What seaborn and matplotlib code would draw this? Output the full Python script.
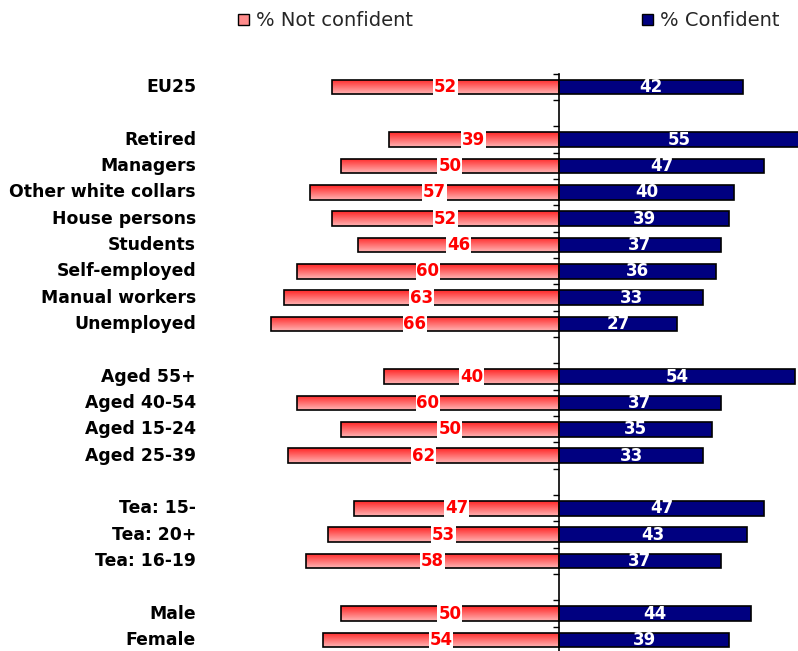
import numpy as np
import pandas as pd
import matplotlib
matplotlib.use("Agg")
import matplotlib.pyplot as plt
from matplotlib.patches import Patch
from matplotlib.colors import LinearSegmentedColormap
import seaborn as sns

# Groups, top to bottom; empty strings mark the spacer rows between groups
categories = [
    "EU25", "",
    "Retired", "Managers", "Other white collars", "House persons",
    "Students", "Self-employed", "Manual workers", "Unemployed", "",
    "Aged 55+", "Aged 40-54", "Aged 15-24", "Aged 25-39", "",
    "Tea: 15-", "Tea: 20+", "Tea: 16-19", "",
    "Male", "Female",
]
not_confident = [52, None, 39, 50, 57, 52, 46, 60, 63, 66, None,
                 40, 60, 50, 62, None, 47, 53, 58, None, 50, 54]
confident = [42, None, 55, 47, 40, 39, 37, 36, 33, 27, None,
             54, 37, 35, 33, None, 47, 43, 37, None, 44, 39]

# unique keys so every row (spacers included) gets its own slot
keys = [f"r{i}" for i in range(len(categories))]
df = pd.DataFrame({
    "key": keys,
    "label": categories,
    "not_conf": [np.nan if v is None else -v for v in not_confident],
    "conf": [np.nan if v is None else v for v in confident],
})

sns.set_theme(style="white")
plt.rcParams["font.family"] = ["DejaVu Sans"]

W, H = 798, 651
fig = plt.figure(figsize=(W / 100, H / 100), dpi=100)
x_left, x_right = -79.9, 54.7
ax = fig.add_axes([210 / W, -2.1 / H, 588 / W, 579.3 / H])

bar_h = 0.56
sns.barplot(data=df, x="not_conf", y="key", order=keys, orient="h",
            width=bar_h, color="#FF6666", edgecolor="black", linewidth=1.2,
            saturation=1, ax=ax, errorbar=None)
n_red = len(ax.patches)
sns.barplot(data=df, x="conf", y="key", order=keys, orient="h",
            width=bar_h, color="#000080", edgecolor="black", linewidth=1.2,
            saturation=1, ax=ax, errorbar=None)

ax.set_xlim(x_left, x_right)
ax.set_ylim(len(keys) - 0.5, -0.5)

# vertical red -> pink gradient inside the "not confident" bars
grad_cmap = LinearSegmentedColormap.from_list("redfade", ["#FF2626", "#FFB4B4"])
grad = np.linspace(0, 1, 64).reshape(-1, 1)
for p in ax.patches[:n_red]:
    if p.get_width() == 0 or np.isnan(p.get_width()):
        continue
    x0, y0 = p.get_x(), p.get_y()
    w, h = p.get_width(), p.get_height()
    p.set_facecolor("none")
    p.set_zorder(3)
    im = ax.imshow(grad, cmap=grad_cmap, aspect="auto", origin="upper",
                   extent=(x0, x0 + w, y0 + h, y0), zorder=2,
                   interpolation="bilinear")
    im.set_clip_path(p)
ax.set_xlim(x_left, x_right)
ax.set_ylim(len(keys) - 0.5, -0.5)

# value labels
for i, (nc, c) in enumerate(zip(not_confident, confident)):
    if nc is not None:
        ax.text(-nc / 2, i, str(nc), ha="center", va="center",
                color="#FF0000", fontsize=12, fontweight="bold", zorder=5,
                bbox=dict(facecolor="white", edgecolor="none", pad=0.6))
    if c is not None:
        ax.text(c / 2, i, str(c), ha="center", va="center",
                color="white", fontsize=12, fontweight="bold", zorder=5)

# category names on the left
for i, lab in enumerate(categories):
    if lab:
        ax.text(-0.0238, i, lab, transform=ax.get_yaxis_transform(),
                ha="right", va="center", fontsize=12.4, fontweight="bold",
                color="black")

# centre axis with small ticks between rows
for s in ["top", "right", "bottom"]:
    ax.spines[s].set_visible(False)
ax.spines["left"].set_position(("data", 0))
ax.spines["left"].set_color("black")
ax.spines["left"].set_linewidth(1.2)
ax.spines["left"].set_zorder(4)
ax.set_yticks(np.arange(-0.5, len(keys), 1.0))
ax.set_yticklabels([])
ax.tick_params(axis="y", which="major", direction="out", length=4,
               width=1, color="black", left=True)
ax.set_xticks([])
ax.set_xlabel("")
ax.set_ylabel("")

# legend entries
fig.legend(handles=[Patch(facecolor="#FF8C8C", edgecolor="black", linewidth=1)],
           labels=["% Not confident"], loc="center left",
           bbox_to_anchor=(238 / W, 1 - 21 / H), frameon=False,
           fontsize=14, handlelength=0.55, handleheight=0.55,
           handletextpad=0.35, borderpad=0, borderaxespad=0)
fig.legend(handles=[Patch(facecolor="#000080", edgecolor="black", linewidth=1)],
           labels=["% Confident"], loc="center left",
           bbox_to_anchor=(642 / W, 1 - 21 / H), frameon=False,
           fontsize=14, handlelength=0.55, handleheight=0.55,
           handletextpad=0.35, borderpad=0, borderaxespad=0)

fig.savefig("out.png", dpi=100)
